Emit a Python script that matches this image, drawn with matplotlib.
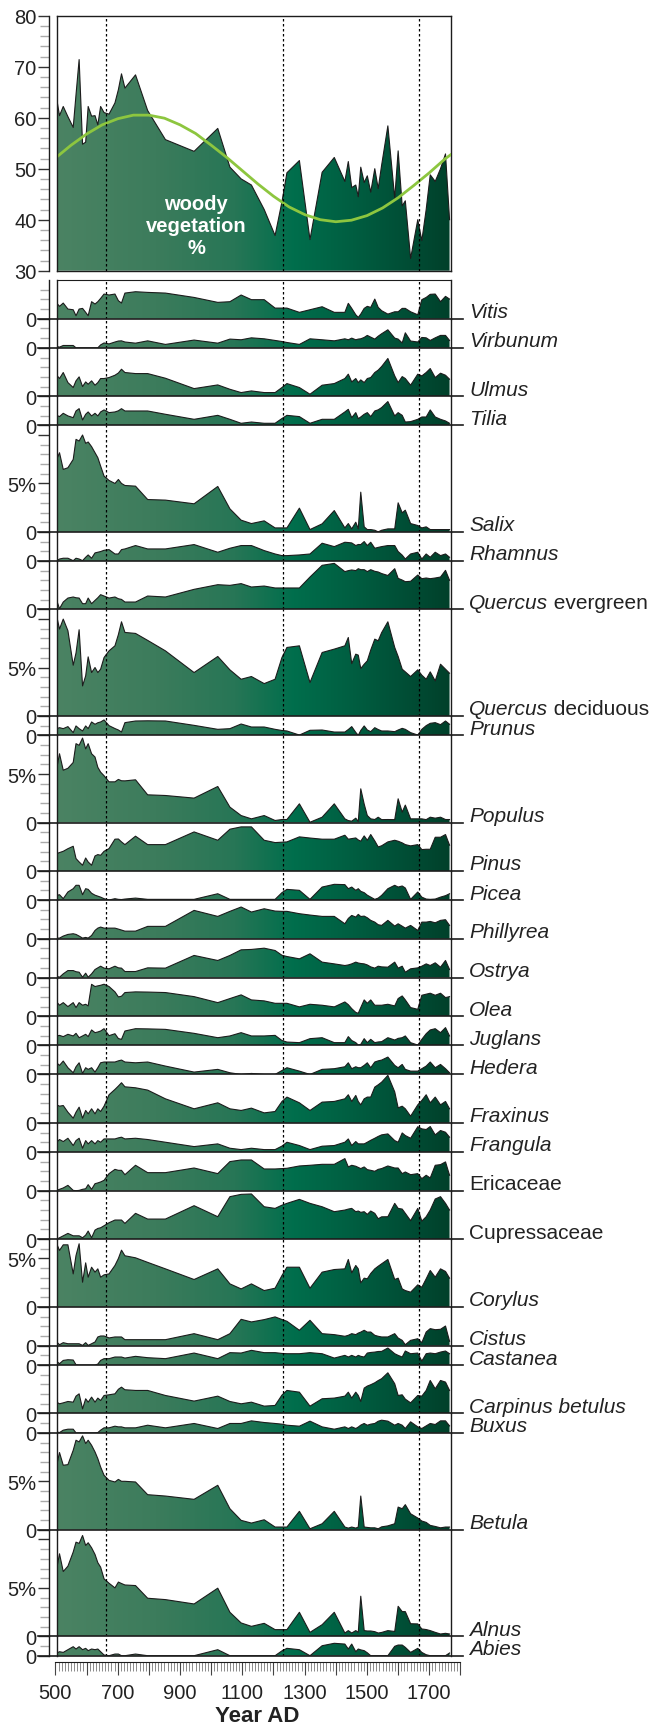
import matplotlib
matplotlib.use('Agg')
import matplotlib.pyplot as plt
import numpy as np
from matplotlib.colors import LinearSegmentedColormap
from matplotlib.ticker import MultipleLocator, FixedLocator, FuncFormatter

plt.rcParams['font.family'] = ['Liberation Sans', 'DejaVu Sans']

# sample ages (year AD) shared by every curve
years = [504, 513, 525, 540, 557, 566, 576, 587, 597, 605,
         616, 627, 636, 645, 656, 672, 691, 702, 712, 723,
         757, 796, 853, 945, 1021, 1060, 1096, 1129, 1170, 1205,
         1227, 1243, 1283, 1317, 1356, 1395, 1429, 1440, 1451, 1464,
         1472, 1480, 1491, 1501, 1512, 1525, 1536, 1547, 1567, 1589,
         1600, 1613, 1623, 1640, 1663, 1676, 1690, 1703, 1719, 1736,
         1752, 1765]

woody = [63.7, 60.4, 62.2, 60.2, 58.1, 64.5, 71.4, 54.8, 55.2, 62.2,
         60.3, 60.4, 58.6, 62.2, 61.0, 60.7, 62.9, 65.5, 68.6, 65.8,
         68.4, 61.4, 55.7, 53.4, 57.9, 50.3, 48.0, 46.8, 42.0, 36.9,
         43.5, 49.2, 51.6, 36.1, 49.3, 52.2, 47.5, 51.4, 46.3, 46.8,
         44.5, 50.3, 47.3, 48.6, 45.4, 50.0, 46.1, 50.7, 58.4, 44.2,
         53.5, 42.7, 43.7, 32.4, 40.0, 35.9, 42.0, 48.8, 47.5, 50.0,
         52.9, 40.0]

trend_years = [500, 550, 600, 650, 700, 750, 800, 850, 900, 950, 1000, 1050, 1100,
               1150, 1200, 1250, 1300, 1350, 1400, 1450, 1500, 1550, 1600, 1650,
               1700, 1750, 1770]
trend = [52.1, 54.6, 56.8, 58.6, 59.8, 60.5, 60.5, 59.9, 58.6, 56.9, 54.6, 52.2, 49.6,
         47.0, 44.6, 42.5, 41.0, 40.0, 39.6, 39.9, 40.8, 42.3, 44.3, 46.7,
         49.2, 51.9, 52.8]

vitis = [1.62, 1.28, 1.62, 1.0, 0.93, 0.31, 1.0, 1.07, 0.66, 0.31,
         1.76, 1.52, 1.76, 2.1, 2.55, 2.45, 2.55, 1.86, 1.62, 2.65,
         2.79, 2.72, 2.65, 2.2, 1.69, 1.76, 2.45, 1.97, 1.97, 1.1,
         1.1, 1.1, 0.66, 0.93, 1.24, 0.66, 0.66, 1.59, 1.07, 0.41,
         0.14, 0.48, 1.07, 1.28, 1.17, 2.03, 1.17, 0.83, 0.48, 0.72,
         0.72, 1.07, 1.07, 0.72, 0.41, 1.97, 2.2, 2.52, 2.55, 1.76,
         2.31, 2.03]
virbunum = [0.14, 0.07, 0.24, 0.24, 0.24, 0.0, 0.0, 0.0, 0.0, 0.0,
            0.0, 0.0, 0.0, 0.3, 0.5, 0.4, 0.6, 0.7, 0.72, 0.6,
            0.48, 0.72, 0.35, 0.8, 0.48, 0.9, 0.83, 1.03, 0.93, 0.76,
            0.65, 0.55, 0.35, 0.93, 0.83, 0.72, 0.93, 0.83, 1.0, 0.83,
            0.9, 0.93, 1.07, 1.28, 1.1, 0.9, 1.2, 1.45, 1.86, 1.0,
            0.9, 0.5, 1.55, 0.7, 0.6, 1.07, 1.03, 0.76, 1.03, 1.28,
            1.28, 0.76]
ulmus = [2.17, 1.83, 2.45, 1.41, 0.9, 1.59, 2.0, 1.0, 1.48, 1.24,
         1.59, 1.14, 1.41, 1.83, 1.83, 1.93, 2.17, 2.4, 2.79, 2.45,
         2.34, 2.34, 1.86, 0.79, 1.17, 0.72, 0.38, 0.55, 0.38, 0.38,
         0.9, 1.31, 0.9, 0.21, 1.14, 1.31, 1.83, 2.28, 1.48, 1.83,
         1.41, 1.69, 1.41, 1.83, 1.93, 2.45, 2.7, 3.07, 3.9, 2.1,
         1.41, 2.03, 1.83, 1.14, 2.28, 2.1, 2.45, 2.86, 1.93, 2.38,
         2.17, 1.76]
tilia = [1.03, 0.9, 1.24, 0.97, 0.79, 1.48, 1.72, 0.55, 1.14, 1.38,
         0.97, 1.24, 0.97, 1.38, 1.59, 1.31, 1.38, 1.5, 1.72, 1.48,
         1.48, 1.48, 1.14, 0.62, 1.03, 0.62, 0.21, 0.34, 0.21, 0.21,
         0.7, 1.03, 0.9, 0.21, 0.62, 0.62, 1.38, 1.65, 0.79, 1.31,
         0.69, 0.86, 1.14, 1.31, 0.9, 1.48, 1.6, 1.83, 2.45, 0.97,
         1.31, 1.03, 0.34, 0.38, 0.62, 0.86, 0.86, 1.59, 0.86, 0.62,
         0.45, 0.21]
salix = [7.48, 8.17, 6.45, 6.62, 7.48, 9.55, 9.38, 10.0, 9.14, 9.28,
         8.8, 8.17, 7.66, 6.79, 5.76, 5.31, 5.0, 5.41, 5.0, 4.79,
         4.72, 3.34, 3.28, 2.9, 4.69, 2.38, 1.21, 0.86, 1.14, 0.41,
         0.41, 0.41, 2.45, 0.24, 0.83, 2.2, 0.41, 0.86, 0.31, 1.0,
         0.31, 4.1, 0.52, 0.24, 0.24, 0.17, 0.0, 0.17, 0.31, 0.31,
         3.0, 1.97, 2.24, 0.86, 0.66, 0.41, 0.52, 0.24, 0.24, 0.24,
         0.24, 0.24]
rhamnus = [0.03, 0.2, 0.28, 0.28, 0.03, 0.28, 0.2, 0.03, 0.38, 0.62,
           0.28, 0.83, 0.9, 0.97, 1.1, 1.17, 0.72, 0.72, 1.17, 1.24,
           1.59, 1.24, 1.24, 1.69, 0.9, 1.31, 1.59, 1.59, 1.07, 0.72,
           0.55, 0.55, 0.62, 0.72, 1.83, 1.48, 1.93, 1.9, 1.86, 1.59,
           1.7, 1.69, 2.0, 1.59, 1.93, 1.31, 1.4, 1.48, 1.59, 1.59,
           0.97, 0.6, 0.2, 0.72, 0.9, 0.2, 0.72, 0.38, 0.9, 0.55,
           0.72, 0.38]
quercus_ever = [0.93, 0.07, 0.76, 1.17, 1.28, 1.2, 1.17, 0.59, 0.59, 1.17,
                0.59, 0.93, 1.2, 1.52, 1.38, 1.17, 1.28, 1.1, 1.03, 0.76,
                0.76, 1.38, 1.28, 2.07, 2.55, 2.48, 2.66, 2.31, 2.41, 2.21,
                2.21, 2.21, 2.21, 3.34, 4.55, 4.75, 3.9, 4.0, 4.07, 4.0,
                4.2, 4.1, 4.1, 3.9, 4.1, 3.93, 3.86, 3.7, 3.5, 4.2,
                3.2, 3.03, 2.86, 2.9, 3.55, 3.17, 3.24, 3.17, 3.24, 3.34,
                4.03, 3.0]
quercus_dec = [10.3, 8.97, 10.0, 8.8, 5.24, 6.5, 8.9, 3.1, 4.14, 6.1,
               4.48, 5.0, 4.48, 4.83, 6.03, 6.72, 7.24, 8.4, 9.72, 8.62,
               8.52, 7.8, 6.72, 4.48, 6.14, 4.76, 3.79, 4.07, 3.34, 3.79,
               6.03, 7.07, 7.24, 3.45, 6.55, 6.9, 7.24, 8.1, 5.4, 6.38,
               6.28, 4.9, 5.34, 5.69, 6.8, 7.93, 7.76, 8.6, 9.72, 7.07,
               6.14, 4.83, 4.55, 4.07, 4.76, 4.21, 3.79, 4.55, 3.62, 5.34,
               4.83, 4.41]
prunus = [0.69, 0.79, 0.69, 0.9, 0.28, 0.97, 0.69, 0.45, 0.97, 0.69,
          1.38, 1.14, 1.3, 1.38, 1.59, 1.0, 0.7, 0.55, 0.34, 1.31,
          1.48, 1.5, 1.48, 1.03, 0.62, 0.69, 1.17, 0.86, 0.86, 0.62,
          0.5, 0.45, 0.03, 0.52, 0.55, 0.34, 0.34, 0.6, 0.9, 0.3,
          0.0, 0.5, 0.97, 0.55, 0.38, 0.79, 0.6, 0.45, 0.45, 0.38,
          0.55, 0.72, 0.62, 0.28, 0.03, 0.62, 1.0, 1.24, 1.31, 1.1,
          1.48, 1.14]
populus = [5.55, 7.1, 5.4, 5.6, 6.2, 8.14, 7.97, 8.72, 7.6, 8.14,
           7.1, 6.76, 5.7, 5.2, 4.83, 4.2, 4.2, 4.45, 4.31, 4.3,
           4.41, 2.86, 2.79, 2.52, 3.72, 1.59, 0.72, 0.38, 0.72, 0.21,
           0.31, 0.31, 1.93, 0.03, 0.55, 1.93, 0.38, 0.2, 0.14, 0.45,
           0.1, 3.48, 1.9, 0.72, 0.38, 0.31, 0.55, 0.3, 0.31, 0.3,
           2.45, 1.07, 1.8, 0.38, 0.38, 0.38, 0.3, 0.55, 0.45, 0.55,
           0.31, 0.31]
pinus = [1.79, 1.9, 2.03, 2.3, 2.55, 1.28, 0.93, 0.59, 1.34, 0.93,
         0.59, 1.55, 1.69, 1.62, 2.03, 2.31, 3.28, 3.3, 3.0, 2.72,
         3.59, 2.72, 2.72, 4.03, 3.17, 4.31, 4.55, 4.55, 3.17, 2.93,
         2.97, 3.0, 3.52, 3.4, 3.28, 3.28, 3.69, 3.28, 3.34, 3.41,
         3.2, 3.07, 3.62, 3.17, 3.76, 3.1, 2.48, 2.6, 3.0, 3.17,
         3.07, 2.9, 2.72, 2.59, 2.72, 2.21, 2.24, 2.24, 3.48, 3.48,
         3.76, 2.66]
picea = [0.48, 0.55, 0.14, 0.83, 1.17, 1.52, 1.52, 0.55, 1.17, 1.1,
         0.7, 0.5, 0.4, 0.3, 0.14, 0.0, 0.14, 0.07, 0.05, 0.1,
         0.2, 0.07, 0.07, 0.07, 0.65, 0.07, 0.07, 0.07, 0.07, 0.07,
         0.76, 1.1, 1.0, 0.07, 1.34, 1.62, 1.59, 1.17, 1.34, 1.0,
         1.17, 0.9, 0.76, 0.5, 0.3, 0.07, 0.2, 0.48, 1.17, 1.52,
         1.34, 1.45, 1.24, 0.07, 0.83, 0.3, 0.1, 0.07, 0.1, 0.3,
         0.45, 0.65]
phillyrea = [0.07, 0.07, 0.28, 0.45, 0.52, 0.45, 0.28, 0.07, 0.14, 0.07,
             0.34, 0.86, 1.1, 1.21, 1.1, 1.1, 1.1, 1.0, 0.9, 0.79,
             0.79, 1.28, 1.28, 2.93, 2.31, 2.83, 3.28, 2.76, 3.1, 2.86,
             2.83, 2.83, 2.59, 2.45, 2.31, 2.31, 1.55, 2.1, 2.41, 2.24,
             2.52, 2.3, 2.34, 2.17, 1.9, 1.72, 1.45, 1.38, 1.9, 1.31,
             1.55, 1.3, 1.1, 1.38, 0.86, 1.72, 1.72, 1.79, 1.65, 1.9,
             1.97, 1.38]
ostrya = [0.14, 0.03, 0.38, 0.72, 0.72, 0.6, 0.55, 0.03, 0.45, 0.03,
          0.38, 0.83, 1.0, 1.17, 0.97, 0.9, 1.17, 1.0, 0.97, 0.62,
          0.62, 1.0, 0.97, 2.28, 1.76, 2.28, 2.86, 2.9, 3.03, 2.79,
          2.3, 2.17, 1.93, 2.45, 1.59, 1.41, 1.24, 1.3, 1.41, 1.59,
          1.5, 1.45, 1.41, 1.3, 1.1, 0.97, 1.17, 1.1, 1.07, 1.59,
          0.97, 1.17, 0.55, 0.9, 1.0, 1.17, 1.41, 1.24, 1.52, 1.07,
          1.76, 0.83]
olea = [1.48, 1.14, 1.41, 1.0, 1.41, 0.9, 1.41, 1.14, 1.24, 1.07,
        3.3, 3.07, 3.14, 3.2, 3.31, 3.07, 2.52, 2.0, 2.07, 2.45,
        2.52, 2.5, 2.45, 2.03, 1.41, 1.83, 2.21, 1.69, 1.59, 1.34,
        1.34, 1.34, 0.97, 1.24, 1.14, 0.97, 1.48, 1.2, 0.79, 0.4,
        0.31, 0.9, 1.69, 1.34, 1.69, 1.14, 1.14, 1.14, 1.24, 1.07,
        1.83, 2.1, 1.69, 0.9, 0.72, 2.17, 2.28, 2.38, 2.17, 2.38,
        1.93, 2.03]
juglans = [0.97, 1.03, 0.9, 1.14, 0.97, 1.24, 0.79, 0.97, 1.14, 0.9,
           1.59, 1.31, 1.38, 1.48, 1.72, 1.0, 1.2, 0.7, 0.62, 1.48,
           1.72, 1.7, 1.65, 1.24, 0.79, 0.97, 1.31, 0.97, 0.97, 1.03,
           0.5, 0.34, 0.28, 0.69, 0.79, 0.28, 0.28, 0.9, 0.5, 0.28,
           0.03, 0.1, 0.69, 0.28, 0.62, 0.28, 0.35, 0.38, 0.79, 0.55,
           0.72, 0.79, 0.97, 0.28, 0.03, 0.62, 1.2, 1.59, 1.72, 1.31,
           1.83, 0.97]
hedera = [1.2, 0.93, 1.38, 0.69, 0.17, 0.79, 1.2, 0.1, 0.69, 0.52,
          0.69, 0.24, 0.69, 1.2, 1.28, 1.28, 1.28, 1.4, 1.48, 1.28,
          1.2, 1.28, 0.86, 0.24, 0.52, 0.17, 0.0, 0.1, 0.0, 0.0,
          0.4, 0.69, 0.34, 0.0, 0.52, 0.59, 0.79, 1.2, 0.59, 0.79,
          0.69, 0.69, 0.93, 1.2, 0.69, 1.28, 1.4, 1.48, 1.79, 0.93,
          0.69, 1.03, 0.52, 0.34, 0.34, 0.59, 0.86, 1.28, 0.69, 1.03,
          0.59, 0.17]
fraxinus = [1.86, 1.72, 1.79, 1.1, 0.48, 1.1, 1.62, 0.48, 1.28, 0.93,
            1.45, 0.93, 1.45, 1.17, 1.72, 2.9, 3.45, 3.8, 4.14, 3.72,
            3.62, 3.38, 2.48, 1.45, 2.07, 1.45, 1.28, 1.52, 1.03, 1.17,
            2.2, 2.66, 2.07, 1.28, 2.14, 2.21, 2.48, 2.9, 2.21, 2.83,
            2.2, 1.86, 2.48, 2.66, 2.66, 3.69, 3.93, 4.2, 4.9, 3.2,
            1.55, 1.72, 1.45, 0.69, 1.86, 2.31, 2.9, 2.07, 2.66, 1.86,
            2.21, 1.45]
frangula = [1.0, 1.28, 1.07, 1.41, 0.66, 1.17, 1.41, 0.38, 1.17, 0.83,
            1.17, 0.83, 1.17, 1.0, 1.34, 1.34, 1.34, 1.45, 1.52, 1.34,
            1.41, 1.28, 1.0, 0.55, 0.83, 0.38, 0.24, 0.38, 0.24, 0.24,
            0.6, 1.0, 0.66, 0.24, 0.59, 0.66, 1.0, 1.34, 0.66, 1.07,
            0.83, 0.83, 0.83, 1.0, 1.2, 1.41, 1.6, 1.76, 1.86, 1.17,
            1.0, 1.96, 1.69, 1.41, 2.6, 2.38, 2.31, 2.62, 1.76, 2.21,
            2.03, 1.52]
ericaceae = [0.03, 0.14, 0.28, 0.55, 0.03, 0.0, 0.03, 0.14, 0.2, 0.62,
             0.14, 0.72, 0.8, 0.9, 1.07, 1.76, 2.2, 2.1, 2.1, 1.65,
             2.62, 1.86, 1.86, 2.34, 1.76, 3.0, 3.17, 3.17, 2.24, 2.24,
             2.28, 2.31, 2.55, 2.62, 2.72, 2.72, 3.31, 2.45, 2.62, 2.52,
             2.4, 2.28, 2.45, 2.17, 2.1, 2.0, 2.2, 2.28, 2.55, 2.34,
             2.34, 1.76, 1.93, 1.65, 1.76, 1.24, 1.59, 1.31, 2.62, 2.69,
             2.97, 1.59]
cupressaceae = [0.0, 0.14, 0.34, 0.59, 0.34, 0.34, 0.34, 0.14, 0.41, 0.83,
                0.14, 0.93, 1.1, 1.17, 1.38, 1.69, 1.97, 1.97, 1.97, 1.62,
                2.66, 2.07, 2.07, 3.45, 2.31, 4.38, 4.62, 4.66, 3.34, 3.17,
                3.5, 3.69, 4.1, 3.69, 3.34, 2.83, 3.0, 3.1, 3.17, 2.83,
                2.9, 2.76, 2.83, 2.55, 2.9, 2.66, 2.1, 2.3, 2.31, 3.69,
                3.17, 3.1, 2.66, 1.9, 3.17, 1.86, 2.31, 3.0, 4.14, 4.38,
                3.69, 3.0]
corylus = [6.52, 5.83, 6.41, 6.41, 3.41, 5.31, 6.52, 2.55, 4.55, 3.07,
           4.1, 3.59, 3.93, 3.07, 3.31, 3.41, 4.28, 5.0, 5.86, 5.28,
           5.07, 4.6, 3.93, 2.83, 3.93, 2.38, 1.86, 2.38, 1.69, 1.93,
           3.24, 4.1, 4.1, 1.93, 3.59, 3.86, 3.93, 4.9, 3.52, 4.28,
           3.93, 2.48, 2.97, 2.9, 3.45, 3.93, 4.2, 4.45, 4.9, 2.83,
           2.97, 1.86, 1.69, 1.52, 2.28, 2.03, 2.9, 3.76, 3.07, 3.93,
           3.66, 2.97]
cistus = [0.38, 0.1, 0.31, 0.2, 0.2, 0.2, 0.2, 0.03, 0.31, 0.03,
          0.2, 0.38, 0.9, 1.0, 1.0, 0.8, 0.9, 0.9, 0.9, 0.62,
          0.62, 0.62, 0.62, 1.24, 0.62, 1.24, 2.72, 2.45, 2.69, 2.97,
          2.7, 2.52, 1.59, 2.62, 1.24, 1.14, 0.97, 1.07, 1.24, 1.14,
          1.3, 1.4, 1.59, 1.4, 1.41, 1.07, 0.97, 0.9, 0.9, 1.24,
          0.79, 0.55, 0.1, 0.55, 0.72, 0.31, 1.41, 1.76, 1.65, 1.69,
          2.03, 0.45]
castanea = [0.38, 0.14, 0.48, 0.55, 0.52, 0.03, 0.0, 0.0, 0.0, 0.0,
            0.0, 0.0, 0.1, 0.48, 0.66, 0.66, 0.83, 0.83, 0.83, 0.72,
            0.9, 0.76, 0.66, 1.24, 0.66, 1.28, 1.24, 1.52, 1.28, 1.28,
            1.2, 1.17, 1.17, 1.28, 1.17, 0.72, 1.0, 0.83, 1.0, 0.83,
            1.0, 0.9, 0.83, 1.24, 1.3, 1.34, 1.4, 1.41, 1.76, 1.17,
            1.0, 0.83, 1.45, 1.17, 1.24, 0.41, 1.17, 1.24, 1.17, 1.34,
            1.45, 1.17]
carpinus = [1.17, 1.0, 1.1, 1.24, 1.17, 1.79, 2.03, 0.48, 1.52, 1.17,
            1.69, 1.17, 1.59, 1.34, 1.86, 1.93, 2.03, 2.5, 2.72, 2.45,
            2.38, 2.38, 1.86, 1.28, 1.79, 1.24, 1.0, 1.17, 0.76, 0.83,
            1.9, 2.38, 2.2, 0.76, 1.52, 1.59, 1.79, 2.2, 1.59, 2.2,
            1.86, 1.24, 2.62, 2.83, 2.97, 3.17, 3.4, 3.59, 4.2, 3.07,
            1.86, 1.93, 1.48, 1.1, 1.86, 1.79, 2.38, 3.41, 2.55, 3.41,
            3.24, 2.38]
buxus = [0.1, 0.03, 0.28, 0.38, 0.38, 0.0, 0.0, 0.0, 0.0, 0.0,
         0.0, 0.0, 0.03, 0.28, 0.52, 0.52, 0.69, 0.62, 0.62, 0.52,
         0.52, 0.79, 0.52, 0.97, 0.45, 0.97, 0.97, 1.24, 1.07, 0.97,
         0.9, 0.79, 0.69, 1.21, 0.62, 0.38, 0.62, 0.45, 0.62, 0.45,
         0.6, 0.8, 0.97, 0.79, 0.9, 0.97, 1.2, 1.31, 1.21, 0.79,
         0.97, 0.79, 0.45, 1.14, 0.62, 0.45, 0.72, 0.97, 0.86, 1.24,
         1.24, 0.72]
betula = [6.66, 7.97, 6.66, 6.72, 8.2, 9.24, 9.07, 9.69, 8.9, 9.24,
          8.72, 8.03, 7.34, 6.48, 5.62, 5.1, 4.93, 5.2, 5.0, 5.0,
          4.93, 3.62, 3.48, 3.14, 4.59, 2.17, 0.97, 0.69, 1.03, 0.28,
          0.28, 0.28, 1.9, 0.1, 0.62, 1.9, 0.28, 0.17, 0.28, 0.17,
          0.28, 3.48, 0.28, 0.24, 0.2, 0.2, 0.1, 0.3, 0.4, 0.62,
          2.34, 2.17, 2.59, 1.65, 1.21, 0.9, 0.76, 0.45, 0.34, 0.2,
          0.28, 0.28]
alnus = [6.97, 8.52, 6.69, 7.24, 8.7, 9.72, 9.59, 10.41, 9.38, 9.66,
         9.14, 8.45, 7.6, 7.14, 5.93, 5.48, 5.0, 5.6, 5.45, 5.3,
         5.24, 3.93, 3.79, 3.34, 4.97, 2.48, 1.38, 1.03, 1.34, 0.69,
         0.69, 0.69, 2.48, 0.41, 1.2, 2.48, 0.34, 0.59, 0.34, 0.59,
         0.41, 4.14, 0.59, 0.55, 0.55, 0.48, 0.34, 0.4, 0.59, 0.5,
         3.1, 2.55, 2.55, 1.3, 1.28, 0.76, 0.7, 0.59, 0.41, 0.24,
         0.31, 0.24]
abies = [0.28, 0.41, 0.34, 0.62, 0.93, 0.69, 0.93, 0.62, 0.76, 0.52,
         0.69, 0.62, 0.69, 0.41, 0.07, 0.0, 0.17, 0.17, 0.0, 0.0,
         0.17, 0.0, 0.0, 0.0, 0.62, 0.0, 0.0, 0.0, 0.0, 0.0,
         0.5, 0.76, 0.62, 0.0, 1.03, 1.28, 1.2, 0.69, 1.2, 0.41,
         0.69, 0.6, 0.52, 0.3, 0.0, 0.0, 0.0, 0.0, 0.0, 0.97,
         1.1, 1.1, 0.86, 0.34, 0.76, 0.34, 0.1, 0.0, 0.0, 0.0,
         0.0, 0.28]

# (name, italic?, suffix, values, panel height in %)
taxa = [
    ('Vitis', True, '', vitis, 4),
    ('Virbunum', True, '', virbunum, 3),
    ('Ulmus', True, '', ulmus, 5),
    ('Tilia', True, '', tilia, 3),
    ('Salix', True, '', salix, 11),
    ('Rhamnus', True, '', rhamnus, 3),
    ('Quercus', True, ' evergreen', quercus_ever, 5),
    ('Quercus', True, ' deciduous', quercus_dec, 11),
    ('Prunus', True, '', prunus, 2),
    ('Populus', True, '', populus, 9),
    ('Pinus', True, '', pinus, 5),
    ('Picea', True, '', picea, 3),
    ('Phillyrea', True, '', phillyrea, 4),
    ('Ostrya', True, '', ostrya, 4),
    ('Olea', True, '', olea, 4),
    ('Juglans', True, '', juglans, 3),
    ('Hedera', True, '', hedera, 3),
    ('Fraxinus', True, '', fraxinus, 5),
    ('Frangula', True, '', frangula, 3),
    ('Ericaceae', False, '', ericaceae, 4),
    ('Cupressaceae', False, '', cupressaceae, 5),
    ('Corylus', True, '', corylus, 7),
    ('Cistus', True, '', cistus, 4),
    ('Castanea', True, '', castanea, 2),
    ('Carpinus betulus', True, '', carpinus, 5),
    ('Buxus', True, '', buxus, 2),
    ('Betula', True, '', betula, 10),
    ('Alnus', True, '', alnus, 11),
    ('Abies', True, '', abies, 2),
]

events = [661, 1229, 1666]

W, H = 653, 1731
fig = plt.figure(figsize=(W / 100, H / 100), dpi=100)


def axes_px(x0, y0, x1, y1):
    # pixel box (top-left origin) -> figure axes
    return fig.add_axes([x0 / W, 1 - y1 / H, (x1 - x0) / W, (y1 - y0) / H])


X0, X1 = 56.7, 450.8
YR0, YR1 = 504, 1769
ink = '#1c1c1c'
cmap = LinearSegmentedColormap.from_list('veg', [
    (0.0, '#4b8363'), (0.25, '#3c7c5c'), (0.45, '#277656'), (0.6, '#006e4c'),
    (0.75, '#005e41'), (0.9, '#004c34'), (1.0, '#00402a')])
grad = np.linspace(0, 1, 256).reshape(1, -1)


def gradient_fill(ax, base, vals, top):
    poly = ax.fill_between(years, base, vals, facecolor='none', edgecolor='none')
    im = ax.imshow(grad, extent=(YR0, YR1, base, top), aspect='auto', cmap=cmap,
                   interpolation='bilinear', origin='lower', zorder=1)
    im.set_clip_path(poly.get_paths()[0], transform=ax.transData)
    ax.plot(years, vals, color=ink, lw=0.8, zorder=2)


def left_axis(ax):
    ax.spines['left'].set_position(('outward', 5.4))
    ax.spines['left'].set_color(ink)
    ax.spines['left'].set_linewidth(1.0)
    ax.tick_params(axis='y', which='major', direction='out', length=7.8, width=1.0,
                   color='#333333', pad=1.2, labelsize=14.5, labelcolor='#222222')
    ax.tick_params(axis='y', which='minor', direction='out', length=6.6, width=1.0,
                   color='#aaaaaa')
    ax.tick_params(axis='x', which='both', bottom=False, labelbottom=False)
    ax.axvline(YR0, color=ink, lw=1.0, clip_on=False, zorder=4)
    for yr in events:
        ax.axvline(yr, color='black', lw=0.9, ls=(0, (2, 2)), zorder=3)


# woody vegetation panel
ax = axes_px(X0, 16.7, X1, 271.7)
gradient_fill(ax, 30, woody, 80)
ax.plot(trend_years, trend, color='#8dc63f', lw=2.0, zorder=3)
ax.set_xlim(YR0, YR1)
ax.set_ylim(30, 80)
ax.yaxis.set_major_locator(MultipleLocator(10))
ax.yaxis.set_minor_locator(MultipleLocator(2))
for side in ('top', 'right', 'bottom'):
    ax.spines[side].set_color(ink)
    ax.spines[side].set_linewidth(1.0)
left_axis(ax)
ax.text(951, 38.8, 'woody\nvegetation\n%', color='white', fontweight='bold',
        fontsize=14.5, ha='center', va='center', linespacing=1.2, zorder=5)

# taxa panels, all on the same % scale
y_top = 281.0
px_pct = (1656.7 - y_top) / sum(t[4] for t in taxa)
for i, (name, italic, suffix, vals, top) in enumerate(taxa):
    y_bot = y_top + top * px_pct
    ax = axes_px(X0, y_top, X1, y_bot)
    ax.patch.set_visible(False)
    gradient_fill(ax, 0, vals, top)
    ax.set_xlim(YR0, YR1)
    ax.set_ylim(0, top)
    majors = [m for m in (0, 5, 10) if m < top]
    ax.yaxis.set_major_locator(FixedLocator(majors))
    ax.set_yticklabels(['0' if m == 0 else ('5%' if m == 5 else '') for m in majors])
    ax.yaxis.set_minor_locator(FixedLocator([v for v in range(1, top) if v % 5]))
    ax.spines['top'].set_visible(i == 0)
    ax.spines['top'].set_color(ink)
    ax.spines['bottom'].set_visible(False)
    ax.spines['right'].set_color(ink)
    ax.spines['right'].set_linewidth(1.0)
    left_axis(ax)
    ax.axhline(0, xmin=(38.3 - X0) / (X1 - X0), xmax=(463.3 - X0) / (X1 - X0),
               color=ink, lw=1.2, clip_on=False, zorder=4)
    t = fig.text(469 / W, 1 - (y_bot - 1.5) / H, name, fontsize=15,
                 style='italic' if italic else 'normal', color='#222222',
                 ha='left', va='baseline')
    if suffix:
        ax.annotate(suffix, xy=(1, 0), xycoords=t, fontsize=15, color='#222222',
                    ha='left', va='bottom')
    y_top = y_bot

# time axis
ax_x = axes_px(55.4, 1661.7, 460.4, 1662.7)
ax_x.patch.set_visible(False)
for side in ('top', 'left', 'right'):
    ax_x.spines[side].set_visible(False)
ax_x.spines['bottom'].set_color(ink)
ax_x.set_xlim(500, 1800)
ax_x.set_yticks([])
ax_x.xaxis.set_major_locator(MultipleLocator(100))
ax_x.xaxis.set_minor_locator(MultipleLocator(10))
ax_x.xaxis.set_major_formatter(FuncFormatter(
    lambda v, p: f'{int(round(v))}' if (int(round(v)) - 500) % 200 == 0 else ''))
ax_x.tick_params(axis='x', which='major', direction='out', length=9.4, width=0.8,
                 color='#444444', pad=6.0, labelsize=14.5, labelcolor='#222222')
ax_x.tick_params(axis='x', which='minor', direction='out', length=6.3, width=0.6,
                 color='#777777')
fig.text(256.7 / W, 1 - 1717 / H, 'Year AD', ha='center', va='center',
         fontsize=16, fontweight='bold', color='#222222')

fig.savefig('out.png', dpi=100)
